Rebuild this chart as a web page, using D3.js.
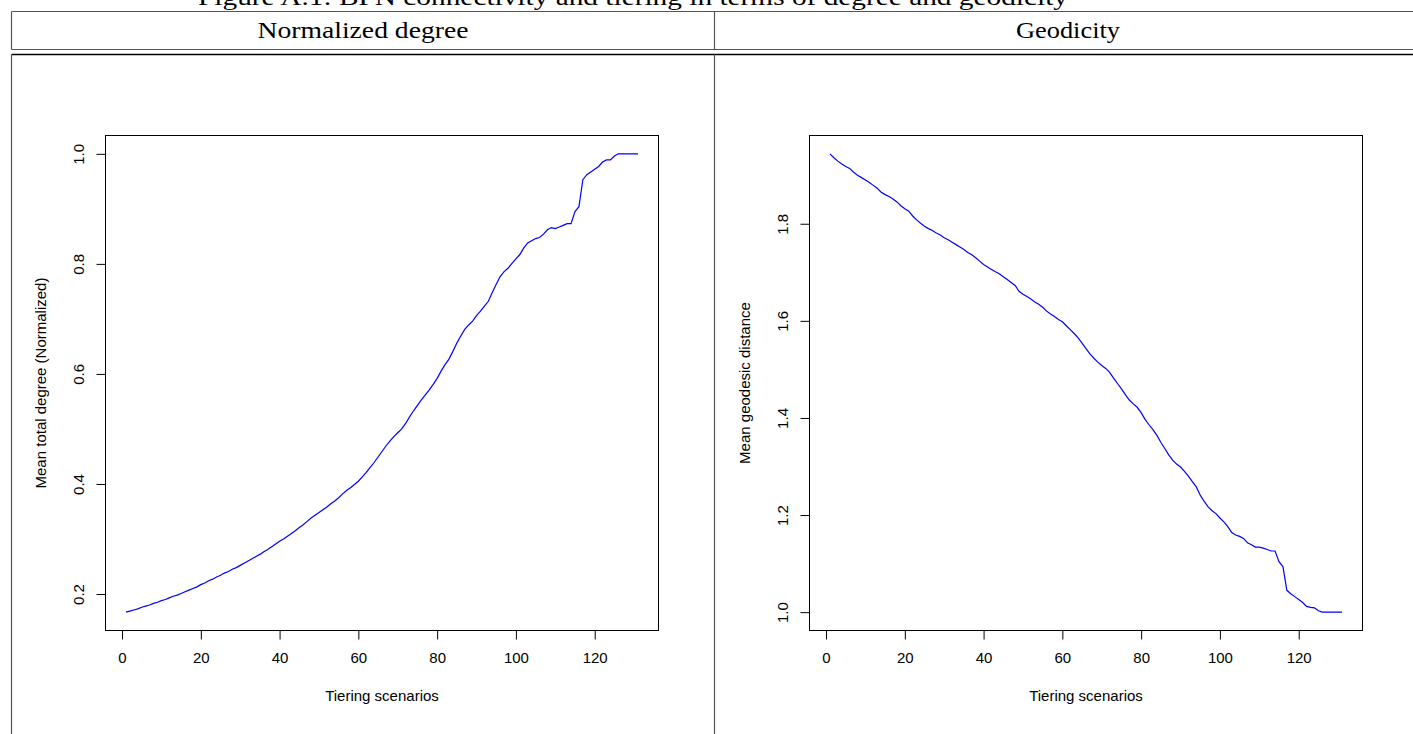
<!DOCTYPE html>
<html>
<head>
<meta charset="utf-8">
<script src="https://cdn.jsdelivr.net/npm/d3@7/dist/d3.min.js"></script>
<style>
  body { margin: 0; background: #ffffff; }
  svg { display: block; }
</style>
</head>
<body>
<div id="wrapper"></div>
<script>
// ---------- DATA -----------------------------------------------------------

// tiering scenario ids run 1..131
const scenarios = d3.range(1, 132);

// mean total degree (normalized), one value per scenario
const meanDegree = [
  0.167, 0.169, 0.171, 0.173, 0.176, 0.178, 0.180, 0.183, 0.185, 0.188,
  0.190, 0.193, 0.196, 0.198, 0.201, 0.204, 0.207, 0.210, 0.213, 0.217,
  0.220, 0.224, 0.227, 0.231, 0.234, 0.238, 0.241, 0.245, 0.248, 0.252,
  0.256, 0.260, 0.264, 0.268, 0.272, 0.277, 0.281, 0.286, 0.291, 0.296,
  0.300, 0.305, 0.310, 0.315, 0.321, 0.326, 0.332, 0.338, 0.343, 0.348,
  0.353, 0.358, 0.364, 0.369, 0.375, 0.382, 0.388, 0.393, 0.399, 0.405,
  0.413, 0.421, 0.430, 0.439, 0.449, 0.459, 0.469, 0.478, 0.486, 0.493,
  0.500, 0.510, 0.522, 0.533, 0.543, 0.553, 0.562, 0.571, 0.581, 0.592,
  0.605, 0.617, 0.627, 0.641, 0.656, 0.669, 0.681, 0.689, 0.696, 0.706,
  0.714, 0.723, 0.732, 0.748, 0.763, 0.777, 0.786, 0.792, 0.801, 0.809,
  0.817, 0.829, 0.838, 0.842, 0.846, 0.848, 0.854, 0.862, 0.866, 0.864,
  0.867, 0.870, 0.873, 0.873, 0.895, 0.904, 0.953, 0.962, 0.967, 0.972,
  0.977, 0.985, 0.989, 0.989, 0.996, 1.000, 1.000, 1.000, 1.000, 1.000,
  1.000
];

// mean geodesic distance, one value per scenario
const meanGeodesic = [
  1.944, 1.936, 1.929, 1.923, 1.918, 1.914, 1.906, 1.900, 1.895, 1.890,
  1.885, 1.879, 1.873, 1.865, 1.860, 1.856, 1.851, 1.845, 1.837, 1.831,
  1.826, 1.816, 1.808, 1.801, 1.795, 1.790, 1.786, 1.781, 1.777, 1.771,
  1.767, 1.762, 1.757, 1.752, 1.747, 1.741, 1.736, 1.730, 1.723, 1.716,
  1.711, 1.706, 1.701, 1.697, 1.691, 1.685, 1.679, 1.673, 1.661, 1.655,
  1.650, 1.645, 1.639, 1.634, 1.628, 1.620, 1.614, 1.609, 1.603, 1.598,
  1.590, 1.582, 1.574, 1.565, 1.554, 1.543, 1.532, 1.523, 1.515, 1.508,
  1.502, 1.494, 1.482, 1.471, 1.460, 1.448, 1.437, 1.429, 1.422, 1.411,
  1.397, 1.386, 1.376, 1.364, 1.350, 1.337, 1.324, 1.313, 1.305, 1.299,
  1.290, 1.280, 1.269, 1.258, 1.241, 1.228, 1.217, 1.209, 1.203, 1.194,
  1.186, 1.176, 1.164, 1.159, 1.156, 1.152, 1.143, 1.139, 1.134, 1.134,
  1.132, 1.129, 1.126, 1.126, 1.104, 1.094, 1.045, 1.038, 1.032, 1.026,
  1.020, 1.012, 1.010, 1.009, 1.003, 1.000, 1.000, 1.000, 1.000, 1.000,
  1.000
];

// tick labels
const xTicks = [0, 20, 40, 60, 80, 100, 120];
const degreeTicks = [0.2, 0.4, 0.6, 0.8, 1.0];
const geodesicTicks = [1.0, 1.2, 1.4, 1.6, 1.8];

// texts
const figureTitle = "Figure A.1: BPN connectivity and tiering in terms of degree and geodicity";
const columnHeaders = ["Normalized degree", "Geodicity"];
const xLabel = "Tiering scenarios";
const yLabels = ["Mean total degree (Normalized)", "Mean geodesic distance"];

function drawChart() {

  // ---------- DIMENSIONS ----------------------------------------------------
  const dimensions = {
    width: 1413,
    height: 734,
    table: { left: 11.5, right: 1413, top: 11.5, headerBottom: 49.5, bodyTop: 54.5, middle: 714.5 },
  };

  // plotting boxes (the R plot region) for each panel
  const panels = [
    { box: { x: 105.5, y: 135.5, w: 553, h: 495 }, values: meanDegree, ticks: degreeTicks, yLabel: yLabels[0] },
    { box: { x: 809.5, y: 135.5, w: 553, h: 495 }, values: meanGeodesic, ticks: geodesicTicks, yLabel: yLabels[1] },
  ];

  const svg = d3
    .select("#wrapper")
    .append("svg")
    .attr("width", dimensions.width)
    .attr("height", dimensions.height);

  // ---------- TITLE & TABLE FRAME -------------------------------------------
  svg.append("text")
    .attr("x", 633)
    .attr("y", 5)
    .attr("text-anchor", "middle")
    .attr("textLength", 870)
    .attr("lengthAdjust", "spacingAndGlyphs")
    .style("font-family", "'Liberation Serif', serif")
    .style("font-size", "23px")
    .text(figureTitle);

  const t = dimensions.table;
  const frame = svg.append("g").attr("fill", "none");
  // header row lines
  frame.append("line").attr("x1", t.left).attr("x2", t.right).attr("y1", t.top).attr("y2", t.top)
    .attr("stroke", "#555").attr("stroke-width", 1.2);
  frame.append("line").attr("x1", t.left).attr("x2", t.right).attr("y1", t.headerBottom).attr("y2", t.headerBottom)
    .attr("stroke", "#555").attr("stroke-width", 1.2);
  frame.append("line").attr("x1", t.left).attr("x2", t.right).attr("y1", t.bodyTop).attr("y2", t.bodyTop)
    .attr("stroke", "#000").attr("stroke-width", 1.4);
  // vertical rules, split by the double line
  [t.left, t.middle].forEach((xPos) => {
    frame.append("line").attr("x1", xPos).attr("x2", xPos).attr("y1", t.top).attr("y2", t.headerBottom)
      .attr("stroke", "#555").attr("stroke-width", 1.2);
    frame.append("line").attr("x1", xPos).attr("x2", xPos).attr("y1", t.bodyTop).attr("y2", dimensions.height)
      .attr("stroke", "#555").attr("stroke-width", 1.2);
  });

  // column headers
  const headerCenters = [(t.left + t.middle) / 2, 1068];
  const headerWidths = [211, 104];
  columnHeaders.forEach((h, i) => {
    svg.append("text")
      .attr("x", headerCenters[i])
      .attr("y", 38)
      .attr("text-anchor", "middle")
      .attr("textLength", headerWidths[i])
      .attr("lengthAdjust", "spacingAndGlyphs")
      .style("font-family", "'Liberation Serif', serif")
      .style("font-size", "23px")
      .text(h);
  });

  // ---------- PANELS --------------------------------------------------------
  // R style axis limits: data range stretched by 4% on each side
  const rExtent = (ext) => {
    const pad = (ext[1] - ext[0]) * 0.04;
    return [ext[0] - pad, ext[1] + pad];
  };

  const sansFont = "'Liberation Sans', Arial, sans-serif";

  panels.forEach((panel) => {
    const b = panel.box;
    const g = svg.append("g");

    const xScale = d3.scaleLinear()
      .domain(rExtent(d3.extent(scenarios)))
      .range([b.x, b.x + b.w]);

    const yScale = d3.scaleLinear()
      .domain(rExtent(d3.extent(panel.values)))
      .range([b.y + b.h, b.y]);

    // x axis
    const xAxisGenerator = d3.axisBottom(xScale)
      .tickValues(xTicks)
      .tickFormat(d3.format("d"))
      .tickSize(9)
      .tickSizeOuter(0)
      .tickPadding(10);

    const xAxis = g.append("g")
      .attr("transform", `translate(0,${b.y + b.h})`)
      .call(xAxisGenerator);
    xAxis.select(".domain")
      .attr("d", `M${xScale(xTicks[0])},0H${xScale(xTicks[xTicks.length - 1])}`);
    xAxis.selectAll("text")
      .attr("y", 27)
      .attr("dy", "0.35em")
      .style("font-family", sansFont)
      .style("font-size", "15px");

    // y axis, labels parallel to the axis like R's default
    const yAxisGenerator = d3.axisLeft(yScale)
      .tickValues(panel.ticks)
      .tickFormat(d3.format(".1f"))
      .tickSize(9)
      .tickSizeOuter(0);

    const yAxis = g.append("g")
      .attr("transform", `translate(${b.x},0)`)
      .call(yAxisGenerator);
    yAxis.select(".domain")
      .attr("d", `M0,${yScale(panel.ticks[0])}V${yScale(panel.ticks[panel.ticks.length - 1])}`);
    yAxis.selectAll("text")
      .attr("x", 0)
      .attr("dy", "0.35em")
      .attr("text-anchor", "middle")
      .attr("transform", "translate(-27,0) rotate(-90)")
      .style("font-family", sansFont)
      .style("font-size", "15px");

    g.selectAll(".tick line, .domain").attr("stroke", "#000");

    // plot box
    g.append("rect")
      .attr("x", b.x)
      .attr("y", b.y)
      .attr("width", b.w)
      .attr("height", b.h)
      .attr("fill", "none")
      .attr("stroke", "#000")
      .attr("stroke-width", 1);

    // series line
    const lineGenerator = d3.line()
      .x((d, i) => xScale(scenarios[i]))
      .y((d) => yScale(d));

    g.append("path")
      .datum(panel.values)
      .attr("d", lineGenerator)
      .attr("fill", "none")
      .attr("stroke", "#0000ff")
      .attr("stroke-width", 1.2);

    // axis titles
    g.append("text")
      .attr("x", b.x + b.w / 2)
      .attr("y", b.y + b.h + 65)
      .attr("dy", "0.35em")
      .attr("text-anchor", "middle")
      .style("font-family", sansFont)
      .style("font-size", "15px")
      .text(xLabel);

    g.append("text")
      .attr("transform", `translate(${b.x - 65},${b.y + b.h / 2}) rotate(-90)`)
      .attr("dy", "0.35em")
      .attr("text-anchor", "middle")
      .style("font-family", sansFont)
      .style("font-size", "15px")
      .text(panel.yLabel);
  });
}

drawChart();
</script>
</body>
</html>
